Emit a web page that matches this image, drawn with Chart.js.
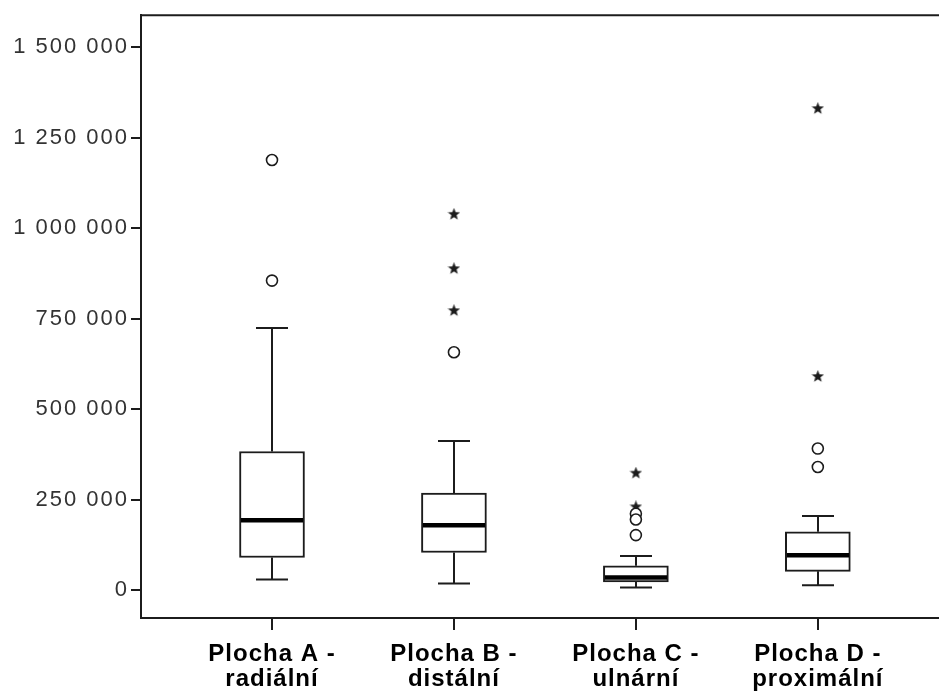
<!DOCTYPE html>
<html>
<head>
<meta charset="utf-8">
<script src="https://cdn.jsdelivr.net/npm/chart.js@4.4.1/dist/chart.umd.min.js"></script>
<style>
  html, body { margin: 0; padding: 0; background: #fff; }
  #wrap { width: 939px; height: 691px; }
</style>
</head>
<body>
<div id="wrap"><canvas id="chart" width="939" height="691"></canvas></div>
<script>
// Box plot values
const categories = [
    ['Plocha A -', 'radiální'],
    ['Plocha B -', 'distální'],
    ['Plocha C -', 'ulnární'],
    ['Plocha D -', 'proximální']
];
const whiskerLow  = [29500, 18500, 7400, 13800];
const q1          = [90000, 104000, 23000, 52000];
const median      = [193000, 179000, 35000, 96500];
const q3          = [383000, 268000, 67000, 161000];
const whiskerHigh = [724000, 412000, 94000, 205000];
const outlierCircles = [
    [1188000, 855000],
    [657000],
    [211000, 195000, 152000],
    [391000, 340000]
];
const outlierStars = [
    [],
    [1038000, 888000, 772000],
    [323000, 230000],
    [1330000, 590000]
];
const yTicks = [0, 250000, 500000, 750000, 1000000, 1250000, 1500000];

const ink = '#1c1c1c';

// filled five point star used for extreme values
function makeStar(size) {
    const c = document.createElement('canvas');
    c.width = c.height = size;
    const g = c.getContext('2d');
    g.beginPath();
    for (let k = 0; k < 10; k++) {
        const r = k % 2 ? size * 0.21 : size * 0.5;
        const a = -Math.PI / 2 + k * Math.PI / 5;
        g.lineTo(size / 2 + r * Math.cos(a), size / 2 + r * Math.sin(a));
    }
    g.closePath();
    g.fillStyle = ink;
    g.fill();
    return c;
}

function formatNumber(v) {
    return String(v).replace(/\B(?=(\d{3})+(?!\d))/g, ' ');
}

const boxData = categories.map((c, i) => ({ x: i, y: [q1[i], q3[i]] }));
const circleData = [];
outlierCircles.forEach((list, i) => list.forEach(v => circleData.push({ x: i, y: v })));
const starData = [];
outlierStars.forEach((list, i) => list.forEach(v => starData.push({ x: i, y: v })));

// wider letter spacing, like the original export (y labels first, x labels drawn later)
const spacing = {
    id: 'spacing',
    beforeDraw(chart) { chart.ctx.letterSpacing = '2px'; },
    afterDatasetsDraw(chart) { chart.ctx.letterSpacing = '1px'; },
    afterDraw(chart) { chart.ctx.letterSpacing = '0px'; }
};

// whiskers, caps, medians and the top frame line
const boxExtras = {
    id: 'boxExtras',
    afterDatasetsDraw(chart) {
        const ctx = chart.ctx;
        const xs = chart.scales.x, ys = chart.scales.y;
        const half = 32, cap = 16;
        ctx.save();
        ctx.strokeStyle = ink;
        categories.forEach((c, i) => {
            const cx = Math.round(xs.getPixelForValue(i));
            ctx.lineWidth = 2;
            ctx.beginPath();
            ctx.moveTo(cx, ys.getPixelForValue(q3[i]));
            ctx.lineTo(cx, ys.getPixelForValue(whiskerHigh[i]));
            ctx.moveTo(cx, ys.getPixelForValue(q1[i]));
            ctx.lineTo(cx, ys.getPixelForValue(whiskerLow[i]));
            ctx.moveTo(cx - cap, ys.getPixelForValue(whiskerHigh[i]));
            ctx.lineTo(cx + cap, ys.getPixelForValue(whiskerHigh[i]));
            ctx.moveTo(cx - cap, ys.getPixelForValue(whiskerLow[i]));
            ctx.lineTo(cx + cap, ys.getPixelForValue(whiskerLow[i]));
            ctx.stroke();
            ctx.lineWidth = 4.5;
            ctx.strokeStyle = '#000';
            ctx.beginPath();
            ctx.moveTo(cx - half + 1, ys.getPixelForValue(median[i]));
            ctx.lineTo(cx + half - 1, ys.getPixelForValue(median[i]));
            ctx.stroke();
            ctx.strokeStyle = ink;
        });
        const area = chart.chartArea;
        ctx.lineWidth = 2;
        ctx.beginPath();
        ctx.moveTo(area.left, area.top);
        ctx.lineTo(area.right, area.top);
        ctx.stroke();
        ctx.restore();
    }
};

new Chart(document.getElementById('chart'), {
    data: {
        datasets: [
            {
                type: 'bar',
                data: boxData,
                backgroundColor: '#fff',
                borderColor: ink,
                borderWidth: 2,
                borderSkipped: false,
                barThickness: 65
            },
            {
                type: 'scatter',
                data: circleData,
                pointStyle: 'circle',
                pointRadius: 5.5,
                pointBorderWidth: 1.6,
                pointBorderColor: ink,
                pointBackgroundColor: '#fff'
            },
            {
                type: 'scatter',
                data: starData,
                pointStyle: makeStar(13),
                pointRadius: 6
            }
        ]
    },
    options: {
        responsive: false,
        animation: false,
        devicePixelRatio: 1,
        layout: { autoPadding: false, padding: { top: 14, right: 0, left: 0, bottom: 0 } },
        plugins: {
            legend: { display: false },
            tooltip: { enabled: false }
        },
        scales: {
            x: {
                type: 'linear',
                offset: false,
                min: -0.72,
                max: 3.666,
                afterBuildTicks: (scale) => {
                    scale.ticks = categories.map((c, i) => ({ value: i }));
                },
                afterFit: (scale) => { scale.height = 73; },
                ticks: {
                    z: 1,
                    callback: (v) => categories[v],
                    color: '#000',
                    padding: 12,
                    maxRotation: 0,
                    autoSkip: false,
                    font: { family: '"Liberation Sans", Arial, sans-serif', size: 24, weight: 'bold', lineHeight: 1.05 }
                },
                grid: { offset: false, drawOnChartArea: false, drawTicks: true, tickLength: 12, color: ink, lineWidth: 2 },
                border: { display: true, color: ink, width: 2 }
            },
            y: {
                min: -77000,
                max: 1588000,
                afterBuildTicks: (scale) => {
                    scale.ticks = yTicks.map(v => ({ value: v }));
                },
                afterFit: (scale) => { scale.width = 141; },
                ticks: {
                    callback: (v) => formatNumber(v),
                    color: '#333',
                    padding: 2,
                    font: { family: '"Liberation Sans", Arial, sans-serif', size: 22 }
                },
                grid: { drawOnChartArea: false, drawTicks: true, tickLength: 10, color: ink, lineWidth: 2 },
                border: { display: true, color: ink, width: 2 }
            }
        }
    },
    plugins: [spacing, boxExtras]
});
</script>
</body>
</html>
